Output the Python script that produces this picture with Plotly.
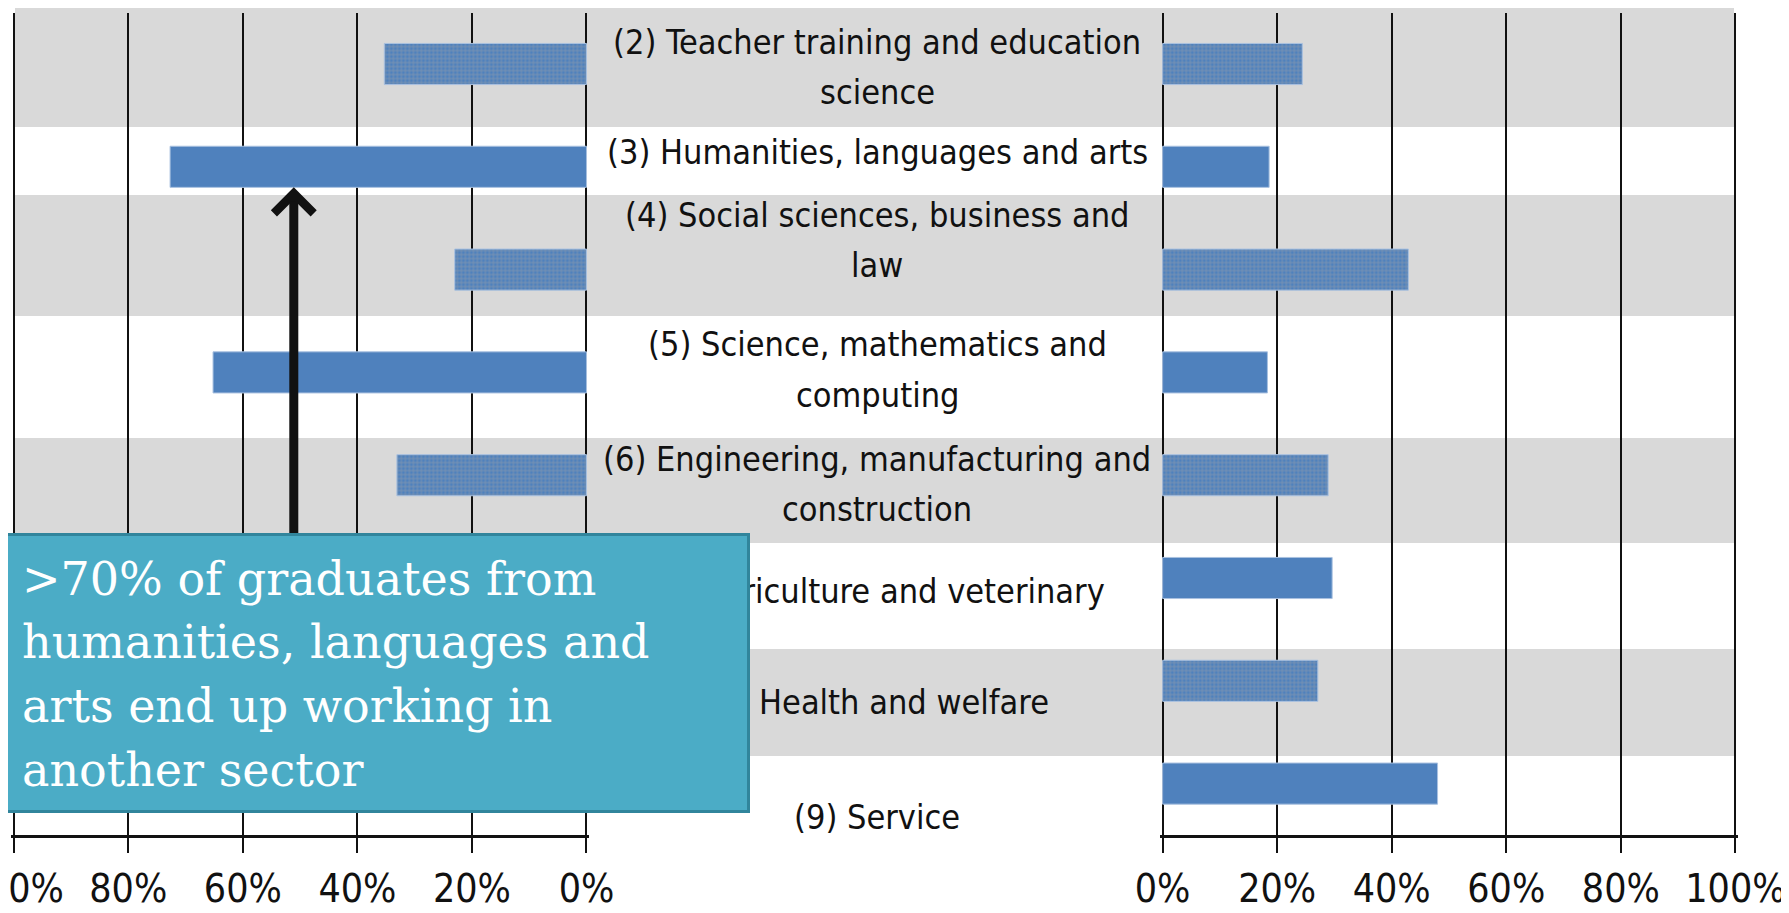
import plotly.graph_objects as go

# ---------------- data ----------------
categories = [
    "(2) Teacher training and education<br>science",
    "(3) Humanities, languages and arts",
    "(4) Social sciences, business and<br>law",
    "(5) Science, mathematics and<br>computing",
    "(6) Engineering, manufacturing and<br>construction",
    "(7) Agriculture and veterinary",
    "(8) Health and welfare",
    "(9) Service",
]
# left panel (reversed axis); rows 7-9 are hidden behind the call-out box in the source
other_sector = [35.3, 72.7, 23.0, 65.2, 33.1, None, None, None]
# right panel
own_sector = [24.4, 18.6, 42.9, 18.3, 28.9, 29.6, 27.1, 48.0]
tick_vals = [0, 20, 40, 60, 80, 100]
tick_text = ["0%", "20%", "40%", "60%", "80%", "100%"]
callout_lines = [
    "&gt;70% of graduates from",
    "humanities, languages and",
    "arts end up working in",
    "another sector",
]

# ---------------- layout helpers ----------------
W, H = 1789, 913
OFF = 8            # page body margin offsets the figure by 8 px
def px(x):
    return (x - OFF) / W
def py(y):
    return 1 - (y - OFF) / H

NARROW = "DejaVu Sans Condensed, Liberation Sans Narrow, sans-serif"
BLUE = "#4f81bd"
positions = list(range(len(categories)))
banded = [i % 2 == 0 for i in positions]          # rows lying on a grey band
pattern_shapes = ["+" if b else "" for b in banded]

# pixel geometry of the two panels (reference page pixels)
L100, L0 = 13.7, 586.5
R0, R100 = 1162.6, 1735.4
PAD = 0.4                                          # % padding so edge grid lines are kept
sL = (L0 - L100) / 100
sR = (R100 - R0) / 100

bar_marker = dict(
    color=BLUE, line=dict(color="#a9c1e0", width=1),
    pattern=dict(shape=pattern_shapes, fgcolor="rgba(165,165,165,0.6)",
                 bgcolor=BLUE, size=4, solidity=0.35, fillmode="replace"))

fig = go.Figure()
fig.add_trace(go.Bar(
    y=positions, x=other_sector, orientation="h", xaxis="x", yaxis="y",
    width=0.4, marker=bar_marker, hoverinfo="skip", showlegend=False))
fig.add_trace(go.Bar(
    y=positions, x=own_sector, orientation="h", xaxis="x2", yaxis="y",
    width=0.4, marker=bar_marker, hoverinfo="skip", showlegend=False))

axis_common = dict(
    tickvals=tick_vals, ticktext=tick_text,
    showgrid=True, gridcolor="#111111", gridwidth=1.5,
    showline=True, linecolor="#111111", linewidth=2.6,
    ticks="outside", ticklen=15, tickwidth=1.8, tickcolor="#111111",
    zeroline=False, anchor="y", automargin=False, ticklabeloverflow="allow",
    ticklabelstandoff=2,
    tickfont=dict(family=NARROW, size=39, color="#111111"),
)

fig.update_layout(
    width=W, height=H,
    margin=dict(l=0, r=0, t=0, b=0, autoexpand=False),
    paper_bgcolor="white", plot_bgcolor="rgba(0,0,0,0)",
    barmode="overlay",
    xaxis=dict(domain=[px(L100 - PAD * sL), px(L0 + PAD * sL)],
               range=[100 + PAD, -PAD], **axis_common),
    xaxis2=dict(domain=[px(R0 - PAD * sR), px(R100 + PAD * sR)],
                range=[-PAD, 100 + PAD], **axis_common),
    yaxis=dict(domain=[py(835), py(12.6)], range=[len(categories) - 0.5, -0.5],
               showticklabels=False, showgrid=False, zeroline=False, showline=False),
)

# alternating grey bands behind everything
band_rows = [(5, 127), (195, 316), (438, 543), (649, 756)]
shapes = []
for top, bottom in band_rows:
    shapes.append(dict(type="rect", xref="paper", yref="paper",
                       x0=px(15), x1=px(1734), y0=py(bottom), y1=py(top),
                       fillcolor="#d9d9d9", line=dict(width=0), layer="below"))
fig.update_layout(shapes=shapes)

# centre category labels (one annotation per text line)
label_x = 877
label_y = [67, 152, 240, 369, 484, 591, 702, 817]
line_gap = 51
annotations = []
for text, cy in zip(categories, label_y):
    lines = text.split("<br>")
    n = len(lines)
    for k, ln in enumerate(lines):
        ly = cy + (k - (n - 1) / 2) * line_gap
        annotations.append(dict(
            x=px(label_x), y=py(ly), xref="paper", yref="paper",
            text=ln, showarrow=False, xanchor="center", yanchor="middle",
            font=dict(family=NARROW, size=34, color="#111111")))

# arrow pointing to the humanities bar
annotations.append(dict(
    x=51.1, y=1.2, xref="x", yref="y",
    ax=51.1, ay=4.7, axref="x", ayref="y",
    text="", showarrow=True, arrowhead=4, arrowsize=0.85,
    arrowwidth=9, arrowcolor="#111111", standoff=0))

# call-out box
annotations.append(dict(
    x=px(0), y=py(533), xref="paper", yref="paper",
    xanchor="left", yanchor="top", text=" ", showarrow=False,
    width=744, height=274,
    bgcolor="#4bacc6", bordercolor="#31859c", borderwidth=3, borderpad=0))

box_line_y = [579, 642, 706, 770]
for ln, ly in zip(callout_lines, box_line_y):
    annotations.append(dict(
        x=px(20), y=py(ly), xref="paper", yref="paper",
        xanchor="left", yanchor="middle", text=ln, showarrow=False,
        font=dict(family="DejaVu Serif, serif", size=46, color="white")))

fig.update_layout(annotations=annotations)

fig.write_html("out.html")
